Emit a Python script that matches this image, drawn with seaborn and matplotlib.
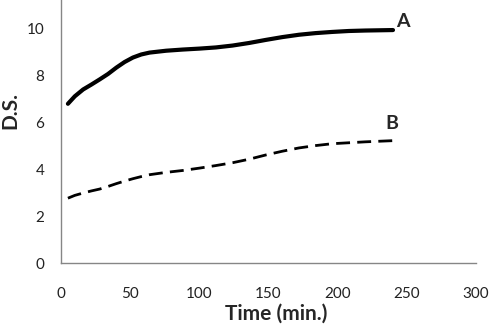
import pandas as pd
import matplotlib
matplotlib.use('Agg')
import matplotlib.pyplot as plt
import seaborn as sns

# Values
time_min = [5, 10, 16, 22, 28, 34, 40, 46, 52, 58, 64, 76, 88, 100, 112,
            124, 136, 148, 160, 172, 184, 196, 208, 220, 240]
ds_a = [6.78, 7.1, 7.39, 7.6, 7.82, 8.05, 8.32, 8.56, 8.75, 8.88, 8.96, 9.04,
        9.09, 9.13, 9.18, 9.26, 9.37, 9.5, 9.62, 9.72, 9.79, 9.84, 9.88, 9.9, 9.92]
ds_b = [2.76, 2.88, 2.98, 3.07, 3.15, 3.26, 3.38, 3.49, 3.59, 3.68, 3.76, 3.86,
        3.94, 4.04, 4.15, 4.27, 4.42, 4.6, 4.76, 4.9, 5.0, 5.08, 5.12, 5.16, 5.21]
series_labels = ['A', 'B']

df = pd.concat([
    pd.DataFrame({'Time': time_min, 'DS': ds_a, 'Series': 'A'}),
    pd.DataFrame({'Time': time_min, 'DS': ds_b, 'Series': 'B'}),
], ignore_index=True)

sns.set_style("white")
plt.rcParams['font.family'] = ['Lato', 'DejaVu Sans']

fig = plt.figure(figsize=(5, 3.29), dpi=100)
ax = fig.add_axes([0.122, 0.2006, 0.830, 0.7994])

sns.lineplot(data=df, x='Time', y='DS', hue='Series', style='Series',
             palette={'A': 'black', 'B': 'black'},
             dashes={'A': '', 'B': (5, 2.6)},
             size='Series', sizes={'A': 3.0, 'B': 2.0},
             legend=False, ax=ax)

# end labels next to each curve
for s, vals, dx, dy in zip(series_labels, [ds_a, ds_b], [7, -1], [0.38, 0.75]):
    ax.text(time_min[-1] + dx, vals[-1] + dy, s, fontsize=14, fontweight='bold',
            ha='center', va='center')

ax.set_xlim(0, 300)
ax.set_ylim(0, 11.2)
ax.set_xticks(range(0, 301, 50))
ax.set_yticks(range(0, 11, 2))

for side in ['top', 'right']:
    ax.spines[side].set_visible(False)
for side in ['left', 'bottom']:
    ax.spines[side].set_color('#868686')
    ax.spines[side].set_linewidth(1.0)

ax.tick_params(axis='both', direction='out', length=4, width=1, color='#868686',
               labelsize=11, labelcolor='#222222')
ax.tick_params(axis='y', pad=8)
ax.tick_params(axis='x', pad=13)

ax.set_xlabel('Time (min.)', fontsize=15, fontweight='bold')
ax.set_ylabel('D.S.', fontsize=15, fontweight='bold')
ax.xaxis.set_label_coords(0.518, -0.153)
ax.yaxis.set_label_coords(-0.097, 0.58)

fig.savefig('out.png', dpi=100)
